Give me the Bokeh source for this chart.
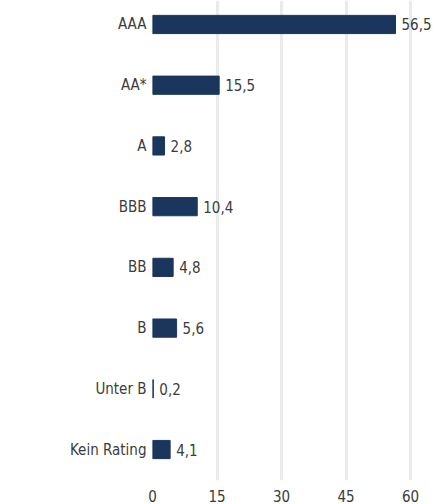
from bokeh.plotting import figure
from bokeh.models import ColumnDataSource, FixedTicker, Range1d
from bokeh.core.properties import value
from bokeh.embed import file_html
from bokeh.resources import INLINE

categories = ["AAA", "AA*", "A", "BBB", "BB", "B", "Unter B", "Kein Rating"]
values = [56.5, 15.5, 2.8, 10.4, 4.8, 5.6, 0.2, 4.1]
x_ticks = [0, 15, 30, 45, 60]

n = len(categories)
pos = [n - 1 - i for i in range(n)]
labels = [f"{v:.1f}".replace(".", ",") for v in values]
src = ColumnDataSource(dict(pos=pos, val=values, lab=labels))

FONT = "DejaVu Sans Condensed, Roboto"
COLOR = "#3c3c3c"

p = figure(width=438, height=504, y_range=Range1d(-0.51, n - 1 + 0.395),
           x_range=Range1d(0, 66.5), output_backend="svg", toolbar_location=None,
           min_border_left=152, min_border_right=0, min_border_top=0, min_border_bottom=24)

p.hbar(y="pos", right="val", left=0, height=0.3, source=src, color="#1b365d")
p.text(x="val", y="pos", text="lab", source=src, x_offset=6, text_baseline="middle",
       text_align="left", text_font=value(FONT), text_font_size="15px", text_color=COLOR)

p.outline_line_color = None
p.ygrid.grid_line_color = None
p.xgrid.grid_line_color = "#ebebeb"
p.xgrid.grid_line_width = 3
p.xaxis.ticker = FixedTicker(ticks=x_ticks)
p.yaxis.ticker = FixedTicker(ticks=pos)
p.yaxis.major_label_overrides = {pp: c for pp, c in zip(pos, categories)}
for ax in (p.xaxis[0], p.yaxis[0]):
    ax.axis_line_color = None
    ax.major_tick_line_color = None
    ax.minor_tick_line_color = None
    ax.major_label_text_font = FONT
    ax.major_label_text_font_size = "15px"
    ax.major_label_text_color = COLOR
p.yaxis.major_label_standoff = 0
p.xaxis.major_label_standoff = 3

open("out.html", "w").write(file_html(p, INLINE))
